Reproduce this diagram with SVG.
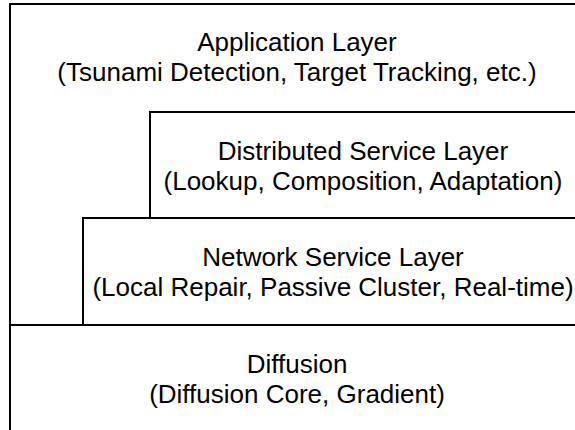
<svg xmlns="http://www.w3.org/2000/svg" width="575" height="430" viewBox="0 0 575 430">
  <style>
    .edge { fill: none; stroke: #000; stroke-width: 2; }
    .label { font-family: "Liberation Sans", Arial, sans-serif; font-size: 26px; fill: #000; text-anchor: middle; }
  </style>
  <rect width="575" height="430" fill="#fff"/>

  <!-- Stacked layers; each layer's outline runs off the right edge -->
  <g id="application-layer">
    <path class="edge" d="M10,434 V4 H580"/>
    <text class="label" x="297" y="51">Application Layer</text>
    <text class="label" x="297" y="81">(Tsunami Detection, Target Tracking, etc.)</text>
  </g>

  <g id="distributed-service-layer">
    <path class="edge" d="M150,218 V112 H580"/>
    <text class="label" x="363" y="160">Distributed Service Layer</text>
    <text class="label" x="363" y="190">(Lookup, Composition, Adaptation)</text>
  </g>

  <g id="network-service-layer">
    <path class="edge" d="M83,325 V218 H580"/>
    <text class="label" x="333" y="266">Network Service Layer</text>
    <text class="label" x="333" y="296">(Local Repair, Passive Cluster, Real-time)</text>
  </g>

  <g id="diffusion">
    <path class="edge" d="M10,325 H580"/>
    <text class="label" x="297" y="373">Diffusion</text>
    <text class="label" x="297" y="403">(Diffusion Core, Gradient)</text>
  </g>

  <g id="connectors"></g>
</svg>
